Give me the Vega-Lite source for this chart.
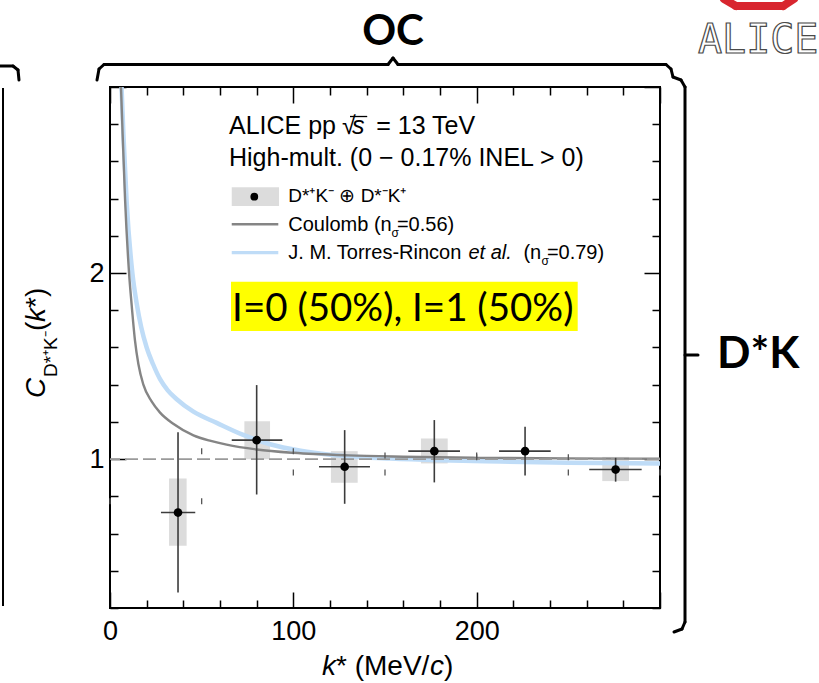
{
"$schema": "https://vega.github.io/schema/vega-lite/v6.json",
"width": 550, "height": 521,
"autosize": {"type": "none"},
"padding": {"left": 110, "top": 87, "right": 159, "bottom": 75},
"background": "white",
"config": {"font": "Liberation Sans", "view": {"stroke": "black", "strokeWidth": 2}},
"datasets": {
 "pts": [
  {"k":37.1,"C":0.713,"kLo":27.8,"kHi":46.5,"CLo":0.283,"CHi":1.145,"bkLo":32.2,"bkHi":41.8,"bLo":0.534,"bHi":0.896},
  {"k":80.0,"C":1.102,"kLo":66.4,"kHi":94.0,"CLo":0.810,"CHi":1.398,"bkLo":73.3,"bkHi":87.3,"bLo":1.0,"bHi":1.204},
  {"k":128.0,"C":0.959,"kLo":114.0,"kHi":141.8,"CLo":0.760,"CHi":1.156,"bkLo":120.5,"bkHi":135.1,"bLo":0.873,"bHi":1.043},
  {"k":176.9,"C":1.043,"kLo":162.7,"kHi":190.9,"CLo":0.875,"CHi":1.21,"bkLo":169.6,"bkHi":184.2,"bLo":0.977,"bHi":1.111},
  {"k":226.4,"C":1.043,"kLo":212.2,"kHi":240.4,"CLo":0.912,"CHi":1.174,"bkLo":null,"bkHi":null,"bLo":null,"bHi":null},
  {"k":275.8,"C":0.944,"kLo":261.4,"kHi":290.0,"CLo":0.879,"CHi":1.007,"bkLo":268.5,"bkHi":283.1,"bLo":0.882,"bHi":1.012}
 ],
 "coulomb": [
  {"k":6.0,"C":3.0},{"k":6.7,"C":2.8},{"k":8.2,"C":2.4},{"k":10.4,"C":2.0},{"k":11.8,"C":1.83},{"k":13.6,"C":1.64},{"k":15.5,"C":1.51},{"k":18.2,"C":1.4},{"k":22.7,"C":1.31},{"k":27.3,"C":1.25},{"k":34.5,"C":1.19},{"k":45.5,"C":1.128},{"k":55,"C":1.098},{"k":63.6,"C":1.078},{"k":80,"C":1.052},{"k":100,"C":1.034},{"k":130,"C":1.02},{"k":160,"C":1.013},{"k":200,"C":1.007},{"k":250,"C":1.004},{"k":300,"C":1.002}
 ],
 "torres": [
  {"k":6.3,"C":3.0},{"k":7.3,"C":2.75},{"k":9.1,"C":2.38},{"k":12.2,"C":2.0},{"k":14.5,"C":1.84},{"k":17,"C":1.71},{"k":20,"C":1.6},{"k":23.5,"C":1.51},{"k":27.3,"C":1.43},{"k":31.5,"C":1.37},{"k":36.4,"C":1.322},{"k":45.5,"C":1.255},{"k":58.2,"C":1.195},{"k":72.7,"C":1.13},{"k":87.3,"C":1.08},{"k":104,"C":1.045},{"k":120,"C":1.024},{"k":135,"C":1.012},{"k":153,"C":1.003},{"k":180,"C":0.994},{"k":213,"C":0.987},{"k":250,"C":0.981},{"k":300,"C":0.977}
 ],
 "hidden": [
  {"lo":0,"hi":50,"C":0.774},{"lo":50,"hi":100,"C":1.043},{"lo":100,"hi":150,"C":0.928},{"lo":150,"hi":200,"C":1.02},{"lo":200,"hi":250,"C":1.01},{"lo":250,"hi":300,"C":0.928}
 ]
},
"resolve": {"axis": {"x": "independent", "y": "independent"}},
"layer": [
 {"data": {"name": "pts"}, "transform": [{"filter": "datum.bLo != null"}],
  "mark": {"type": "rect", "color": "#dcdcdc"},
  "encoding": {
   "x": {"field": "bkLo", "type": "quantitative", "scale": {"domain": [0, 300], "nice": false, "zero": false},
     "axis": {"orient": "bottom", "values": [0,20,40,60,80,100,120,140,160,180,200,220,240,260,280,300],
       "tickSize": {"condition": {"test": "datum.value % 100 === 0", "value": -16}, "value": -8},
       "tickColor": "black", "tickWidth": 1.5, "domain": false, "grid": false, "title": null,
       "labelExpr": "datum.value === 0 ? '0' : datum.value === 100 ? '100' : datum.value === 200 ? '200' : ''",
       "labelFont": "Liberation Sans", "labelFontSize": 27, "labelColor": "black", "labelPadding": 26,
       "labelFlush": false, "labelOverlap": false, "labelBound": false}},
   "x2": {"field": "bkHi"},
   "y": {"field": "bLo", "type": "quantitative", "scale": {"domain": [0.2, 3.0], "nice": false, "zero": false},
     "axis": {"orient": "left", "values": [0.2,0.4,0.6,0.8,1,1.2,1.4,1.6,1.8,2,2.2,2.4,2.6,2.8,3],
       "tickSize": {"condition": {"test": "abs(datum.value - round(datum.value)) < 0.001", "value": -16}, "value": -8},
       "tickColor": "black", "tickWidth": 1.5, "domain": false, "grid": false, "title": null,
       "labelExpr": "datum.value === 1 ? '1' : datum.value === 2 ? '2' : ''",
       "labelFont": "Liberation Sans", "labelFontSize": 27, "labelColor": "black", "labelPadding": 22,
       "labelFlush": false, "labelOverlap": false, "labelBound": false}},
   "y2": {"field": "bHi"}
  }},
 {"data": {"name": "torres"},
  "mark": {"type": "line", "color": "#bfdcf7", "strokeWidth": 4.5, "interpolate": "monotone"},
  "encoding": {"x": {"field": "k", "type": "quantitative", "axis": null}, "y": {"field": "C", "type": "quantitative", "axis": null}}},
 {"data": {"name": "coulomb"},
  "mark": {"type": "line", "color": "#858585", "strokeWidth": 2.4, "interpolate": "monotone"},
  "encoding": {
   "x": {"field": "k", "type": "quantitative",
     "axis": {"orient": "top", "values": [0,20,40,60,80,100,120,140,160,180,200,220,240,260,280,300],
       "tickSize": {"condition": {"test": "datum.value % 100 === 0", "value": -16}, "value": -8},
       "tickColor": "black", "tickWidth": 1.5, "domain": false, "grid": false, "title": null, "labels": false}},
   "y": {"field": "C", "type": "quantitative",
     "axis": {"orient": "right", "values": [0.2,0.4,0.6,0.8,1,1.2,1.4,1.6,1.8,2,2.2,2.4,2.6,2.8,3],
       "tickSize": {"condition": {"test": "abs(datum.value - round(datum.value)) < 0.001", "value": -16}, "value": -8},
       "tickColor": "black", "tickWidth": 1.5, "domain": false, "grid": false, "title": null, "labels": false}}
  }},
 {"data": {"values": [{}]},
  "mark": {"type": "rule", "color": "#9a9a9a", "strokeWidth": 1.6, "strokeDash": [13, 5]},
  "encoding": {"y": {"datum": 1, "type": "quantitative", "axis": null}}},
 {"data": {"name": "hidden"},
  "mark": {"type": "tick", "orient": "vertical", "size": 6, "thickness": 1.3, "color": "#555555", "opacity": 1},
  "encoding": {"x": {"field": "lo", "type": "quantitative", "axis": null}, "y": {"field": "C", "type": "quantitative", "axis": null}}},
 {"data": {"name": "hidden"},
  "mark": {"type": "tick", "orient": "vertical", "size": 6, "thickness": 1.3, "color": "#555555", "opacity": 1},
  "encoding": {"x": {"field": "hi", "type": "quantitative", "axis": null}, "y": {"field": "C", "type": "quantitative", "axis": null}}},
 {"data": {"name": "pts"},
  "mark": {"type": "rule", "color": "#3c3c3c", "strokeWidth": 1.6},
  "encoding": {"x": {"field": "kLo", "type": "quantitative", "axis": null}, "x2": {"field": "kHi"}, "y": {"field": "C", "type": "quantitative", "axis": null}}},
 {"data": {"name": "pts"},
  "mark": {"type": "rule", "color": "#3c3c3c", "strokeWidth": 1.6},
  "encoding": {"x": {"field": "k", "type": "quantitative", "axis": null}, "y": {"field": "CLo", "type": "quantitative", "axis": null}, "y2": {"field": "CHi"}}},
 {"data": {"name": "pts"},
  "mark": {"type": "point", "filled": true, "color": "black", "size": 75, "opacity": 1},
  "encoding": {"x": {"field": "k", "type": "quantitative", "axis": null}, "y": {"field": "C", "type": "quantitative", "axis": null}}},

 {"data": {"values": [{}]}, "mark": {"type": "text", "text": "ALICE pp", "align": "left", "baseline": "alphabetic", "fontSize": 25, "color": "black"},
  "encoding": {"x": {"datum": 64.91, "type": "quantitative", "axis": null}, "y": {"datum": 2.7458, "type": "quantitative", "axis": null}}},
 {"data": {"values": [{}]}, "mark": {"type": "text", "text": "√", "align": "left", "baseline": "alphabetic", "fontSize": 25, "color": "black"},
  "encoding": {"x": {"datum": 126.55, "type": "quantitative", "axis": null}, "y": {"datum": 2.7458, "type": "quantitative", "axis": null}}},
 {"data": {"values": [{}]}, "mark": {"type": "text", "text": "s", "align": "left", "baseline": "alphabetic", "fontSize": 25, "fontStyle": "italic", "color": "black"},
  "encoding": {"x": {"datum": 132.0, "type": "quantitative", "axis": null}, "y": {"datum": 2.7458, "type": "quantitative", "axis": null}}},
 {"data": {"values": [{}]}, "mark": {"type": "text", "text": "= 13 TeV", "align": "left", "baseline": "alphabetic", "fontSize": 25, "color": "black"},
  "encoding": {"x": {"datum": 145.2, "type": "quantitative", "axis": null}, "y": {"datum": 2.7458, "type": "quantitative", "axis": null}}},
 {"data": {"values": [{}]}, "mark": {"type": "rule", "color": "black", "strokeWidth": 1.3},
  "encoding": {"x": {"datum": 130.9, "type": "quantitative", "axis": null}, "x2": {"datum": 140.3}, "y": {"datum": 2.8414, "type": "quantitative", "axis": null}}},
 {"data": {"values": [{}]}, "mark": {"type": "text", "text": "High-mult. (0 − 0.17% INEL > 0)", "align": "left", "baseline": "alphabetic", "fontSize": 25, "color": "black"},
  "encoding": {"x": {"datum": 64.91, "type": "quantitative", "axis": null}, "y": {"datum": 2.5754, "type": "quantitative", "axis": null}}},

 {"data": {"values": [{}]}, "mark": {"type": "rect", "color": "#dcdcdc"},
  "encoding": {"x": {"datum": 66.4, "type": "quantitative", "axis": null}, "x2": {"datum": 92.2}, "y": {"datum": 2.461, "type": "quantitative", "axis": null}, "y2": {"datum": 2.3605}}},
 {"data": {"values": [{}]}, "mark": {"type": "point", "filled": true, "color": "black", "size": 60, "opacity": 1},
  "encoding": {"x": {"datum": 78.71, "type": "quantitative", "axis": null}, "y": {"datum": 2.4104, "type": "quantitative", "axis": null}}},
 {"data": {"values": [{}]}, "mark": {"type": "text", "text": "D*⁺K⁻ ⊕ D*⁻K⁺", "align": "left", "baseline": "alphabetic", "fontSize": 19, "color": "black"},
  "encoding": {"x": {"datum": 97.25, "type": "quantitative", "axis": null}, "y": {"datum": 2.3836, "type": "quantitative", "axis": null}}},
 {"data": {"values": [{}]}, "mark": {"type": "rule", "color": "#858585", "strokeWidth": 2.6},
  "encoding": {"x": {"datum": 66.4, "type": "quantitative", "axis": null}, "x2": {"datum": 91.8}, "y": {"datum": 2.2621, "type": "quantitative", "axis": null}}},
 {"data": {"values": [{}]}, "mark": {"type": "text", "text": "Coulomb (n", "align": "left", "baseline": "alphabetic", "fontSize": 20, "color": "black"},
  "encoding": {"x": {"datum": 97.25, "type": "quantitative", "axis": null}, "y": {"datum": 2.2277, "type": "quantitative", "axis": null}}},
 {"data": {"values": [{}]}, "mark": {"type": "text", "text": "σ", "align": "left", "baseline": "alphabetic", "fontSize": 12, "color": "black"},
  "encoding": {"x": {"datum": 153.5, "type": "quantitative", "axis": null}, "y": {"datum": 2.1965, "type": "quantitative", "axis": null}}},
 {"data": {"values": [{}]}, "mark": {"type": "text", "text": "=0.56)", "align": "left", "baseline": "alphabetic", "fontSize": 20, "color": "black"},
  "encoding": {"x": {"datum": 156.5, "type": "quantitative", "axis": null}, "y": {"datum": 2.2277, "type": "quantitative", "axis": null}}},
 {"data": {"values": [{}]}, "mark": {"type": "rule", "color": "#bfdcf7", "strokeWidth": 3.2},
  "encoding": {"x": {"datum": 66.4, "type": "quantitative", "axis": null}, "x2": {"datum": 91.8}, "y": {"datum": 2.1095, "type": "quantitative", "axis": null}}},
 {"data": {"values": [{}]}, "mark": {"type": "text", "text": "J. M. Torres-Rincon", "align": "left", "baseline": "alphabetic", "fontSize": 20, "color": "black"},
  "encoding": {"x": {"datum": 97.25, "type": "quantitative", "axis": null}, "y": {"datum": 2.074, "type": "quantitative", "axis": null}}},
 {"data": {"values": [{}]}, "mark": {"type": "text", "text": "et al.", "align": "left", "baseline": "alphabetic", "fontSize": 20, "fontStyle": "italic", "color": "black"},
  "encoding": {"x": {"datum": 195.5, "type": "quantitative", "axis": null}, "y": {"datum": 2.074, "type": "quantitative", "axis": null}}},
 {"data": {"values": [{}]}, "mark": {"type": "text", "text": "(n", "align": "left", "baseline": "alphabetic", "fontSize": 20, "color": "black"},
  "encoding": {"x": {"datum": 225.5, "type": "quantitative", "axis": null}, "y": {"datum": 2.074, "type": "quantitative", "axis": null}}},
 {"data": {"values": [{}]}, "mark": {"type": "text", "text": "σ", "align": "left", "baseline": "alphabetic", "fontSize": 12, "color": "black"},
  "encoding": {"x": {"datum": 235.4, "type": "quantitative", "axis": null}, "y": {"datum": 2.0434, "type": "quantitative", "axis": null}}},
 {"data": {"values": [{}]}, "mark": {"type": "text", "text": "=0.79)", "align": "left", "baseline": "alphabetic", "fontSize": 20, "color": "black"},
  "encoding": {"x": {"datum": 238.3, "type": "quantitative", "axis": null}, "y": {"datum": 2.074, "type": "quantitative", "axis": null}}},

 {"data": {"values": [{}]}, "mark": {"type": "rect", "color": "#ffff00"},
  "encoding": {"x": {"datum": 66.0, "type": "quantitative", "axis": null}, "x2": {"datum": 255.11}, "y": {"datum": 1.9536, "type": "quantitative", "axis": null}, "y2": {"datum": 1.6886}}},
 {"data": {"values": [{}]}, "mark": {"type": "text", "text": "I=0 (50%), I=1 (50%)", "align": "left", "baseline": "alphabetic", "font": "Lato", "fontSize": 38.5, "color": "black"},
  "encoding": {"x": {"datum": 66.6, "type": "quantitative", "axis": null}, "y": {"datum": 1.7424, "type": "quantitative", "axis": null}}},

 {"data": {"values": [{}]}, "mark": {"type": "text", "text": "C", "align": "left", "baseline": "alphabetic", "fontSize": 28, "fontStyle": "italic", "angle": 270, "color": "black"},
  "encoding": {"x": {"datum": -35.45, "type": "quantitative", "axis": null}, "y": {"datum": 1.3286, "type": "quantitative", "axis": null}}},
 {"data": {"values": [{}]}, "mark": {"type": "text", "text": "D*⁺K⁻", "align": "left", "baseline": "alphabetic", "fontSize": 19, "angle": 270, "color": "black"},
  "encoding": {"x": {"datum": -28.91, "type": "quantitative", "axis": null}, "y": {"datum": 1.4415, "type": "quantitative", "axis": null}}},
 {"data": {"values": [{}]}, "mark": {"type": "text", "text": "(", "align": "left", "baseline": "alphabetic", "fontSize": 28, "angle": 270, "color": "black"},
  "encoding": {"x": {"datum": -35.45, "type": "quantitative", "axis": null}, "y": {"datum": 1.6887, "type": "quantitative", "axis": null}}},
 {"data": {"values": [{}]}, "mark": {"type": "text", "text": "k", "align": "left", "baseline": "alphabetic", "fontSize": 28, "fontStyle": "italic", "angle": 270, "color": "black"},
  "encoding": {"x": {"datum": -35.45, "type": "quantitative", "axis": null}, "y": {"datum": 1.7371, "type": "quantitative", "axis": null}}},
 {"data": {"values": [{}]}, "mark": {"type": "text", "text": "*)", "align": "left", "baseline": "alphabetic", "fontSize": 28, "angle": 270, "color": "black"},
  "encoding": {"x": {"datum": -35.45, "type": "quantitative", "axis": null}, "y": {"datum": 1.8123, "type": "quantitative", "axis": null}}},

 {"data": {"values": [{}]}, "mark": {"type": "text", "text": "k", "align": "left", "baseline": "alphabetic", "fontSize": 28, "fontStyle": "italic", "color": "black"},
  "encoding": {"x": {"datum": 115.64, "type": "quantitative", "axis": null}, "y": {"datum": -0.1601, "type": "quantitative", "axis": null}}},
 {"data": {"values": [{}]}, "mark": {"type": "text", "text": "* (MeV/", "align": "left", "baseline": "alphabetic", "fontSize": 28, "color": "black"},
  "encoding": {"x": {"datum": 123.27, "type": "quantitative", "axis": null}, "y": {"datum": -0.1601, "type": "quantitative", "axis": null}}},
 {"data": {"values": [{}]}, "mark": {"type": "text", "text": "c", "align": "left", "baseline": "alphabetic", "fontSize": 28, "fontStyle": "italic", "color": "black"},
  "encoding": {"x": {"datum": 174.55, "type": "quantitative", "axis": null}, "y": {"datum": -0.1601, "type": "quantitative", "axis": null}}},
 {"data": {"values": [{}]}, "mark": {"type": "text", "text": ")", "align": "left", "baseline": "alphabetic", "fontSize": 28, "color": "black"},
  "encoding": {"x": {"datum": 182.18, "type": "quantitative", "axis": null}, "y": {"datum": -0.1601, "type": "quantitative", "axis": null}}},

 {"data": {"values": [{}]}, "mark": {"type": "text", "text": "OC", "align": "center", "baseline": "alphabetic", "font": "Lato", "fontWeight": "bold", "fontSize": 42, "color": "black"},
  "encoding": {"x": {"datum": 154.36, "type": "quantitative", "axis": null}, "y": {"datum": 3.2257, "type": "quantitative", "axis": null}}},
 {"data": {"values": [{}]}, "mark": {"type": "text", "text": "D*K", "align": "left", "baseline": "alphabetic", "font": "Lato", "fontWeight": "bold", "fontSize": 44, "color": "black"},
  "encoding": {"x": {"datum": 331.09, "type": "quantitative", "axis": null}, "y": {"datum": 1.4898, "type": "quantitative", "axis": null}}},
 {"data": {"values": [{}]}, "mark": {"type": "text", "text": "ALICE", "align": "left", "baseline": "alphabetic", "font": "DejaVu Sans Mono", "fontSize": 40, "fill": "white", "stroke": "#4a4a4a", "strokeWidth": 1.2},
  "encoding": {"x": {"datum": 320.73, "type": "quantitative", "axis": null}, "y": {"datum": 3.1828, "type": "quantitative", "axis": null}}},

 {"data": {"values": [{}]}, "mark": {"type": "rule", "color": "#d8262f", "strokeWidth": 8, "strokeCap": "round"},
  "encoding": {"x": {"datum": 334.91, "type": "quantitative", "axis": null}, "x2": {"datum": 341.45}, "y": {"datum": 3.473, "type": "quantitative", "axis": null}, "y2": {"datum": 3.4353}}},
 {"data": {"values": [{}]}, "mark": {"type": "rule", "color": "#d8262f", "strokeWidth": 8, "strokeCap": "round"},
  "encoding": {"x": {"datum": 341.45, "type": "quantitative", "axis": null}, "x2": {"datum": 367.09}, "y": {"datum": 3.4353, "type": "quantitative", "axis": null}, "y2": {"datum": 3.4353}}},
 {"data": {"values": [{}]}, "mark": {"type": "rule", "color": "#d8262f", "strokeWidth": 8, "strokeCap": "round"},
  "encoding": {"x": {"datum": 367.09, "type": "quantitative", "axis": null}, "x2": {"datum": 373.09}, "y": {"datum": 3.4353, "type": "quantitative", "axis": null}, "y2": {"datum": 3.473}}},

 {"data": {"values": [{}]}, "mark": {"type": "rule", "color": "black", "strokeWidth": 3, "strokeCap": "round"},
  "encoding": {"x": {"datum": -7.09, "type": "quantitative", "axis": null}, "x2": {"datum": -5.99}, "y": {"datum": 3.0376, "type": "quantitative", "axis": null}, "y2": {"datum": 3.0967}}},
 {"data": {"values": [{}]}, "mark": {"type": "rule", "color": "black", "strokeWidth": 3, "strokeCap": "round"},
  "encoding": {"x": {"datum": -5.99, "type": "quantitative", "axis": null}, "x2": {"datum": -3.27}, "y": {"datum": 3.0967, "type": "quantitative", "axis": null}, "y2": {"datum": 3.1209}}},
 {"data": {"values": [{}]}, "mark": {"type": "rule", "color": "black", "strokeWidth": 3, "strokeCap": "round"},
  "encoding": {"x": {"datum": -3.27, "type": "quantitative", "axis": null}, "x2": {"datum": 151.64}, "y": {"datum": 3.1209, "type": "quantitative", "axis": null}, "y2": {"datum": 3.1209}}},
 {"data": {"values": [{}]}, "mark": {"type": "rule", "color": "black", "strokeWidth": 3, "strokeCap": "round"},
  "encoding": {"x": {"datum": 151.64, "type": "quantitative", "axis": null}, "x2": {"datum": 154.36}, "y": {"datum": 3.1209, "type": "quantitative", "axis": null}, "y2": {"datum": 3.1559}}},
 {"data": {"values": [{}]}, "mark": {"type": "rule", "color": "black", "strokeWidth": 3, "strokeCap": "round"},
  "encoding": {"x": {"datum": 154.36, "type": "quantitative", "axis": null}, "x2": {"datum": 157.09}, "y": {"datum": 3.1559, "type": "quantitative", "axis": null}, "y2": {"datum": 3.1209}}},
 {"data": {"values": [{}]}, "mark": {"type": "rule", "color": "black", "strokeWidth": 3, "strokeCap": "round"},
  "encoding": {"x": {"datum": 157.09, "type": "quantitative", "axis": null}, "x2": {"datum": 303.27}, "y": {"datum": 3.1209, "type": "quantitative", "axis": null}, "y2": {"datum": 3.1209}}},
 {"data": {"values": [{}]}, "mark": {"type": "rule", "color": "black", "strokeWidth": 3, "strokeCap": "round"},
  "encoding": {"x": {"datum": 303.27, "type": "quantitative", "axis": null}, "x2": {"datum": 306.0}, "y": {"datum": 3.1209, "type": "quantitative", "axis": null}, "y2": {"datum": 3.0967}}},
 {"data": {"values": [{}]}, "mark": {"type": "rule", "color": "black", "strokeWidth": 3, "strokeCap": "round"},
  "encoding": {"x": {"datum": 306.0, "type": "quantitative", "axis": null}, "x2": {"datum": 307.09}, "y": {"datum": 3.0967, "type": "quantitative", "axis": null}, "y2": {"datum": 3.0537}}},
 {"data": {"values": [{}]}, "mark": {"type": "rule", "color": "black", "strokeWidth": 3, "strokeCap": "round"},
  "encoding": {"x": {"datum": 307.09, "type": "quantitative", "axis": null}, "x2": {"datum": 311.45}, "y": {"datum": 3.0537, "type": "quantitative", "axis": null}, "y2": {"datum": 3.0376}}},
 {"data": {"values": [{}]}, "mark": {"type": "rule", "color": "black", "strokeWidth": 3, "strokeCap": "round"},
  "encoding": {"x": {"datum": 311.45, "type": "quantitative", "axis": null}, "x2": {"datum": 313.64}, "y": {"datum": 3.0376, "type": "quantitative", "axis": null}, "y2": {"datum": 3.0}}},
 {"data": {"values": [{}]}, "mark": {"type": "rule", "color": "black", "strokeWidth": 3, "strokeCap": "round"},
  "encoding": {"x": {"datum": 313.64, "type": "quantitative", "axis": null}, "x2": {"datum": 313.64}, "y": {"datum": 3.0, "type": "quantitative", "axis": null}, "y2": {"datum": 0.1247}}},
 {"data": {"values": [{}]}, "mark": {"type": "rule", "color": "black", "strokeWidth": 3, "strokeCap": "round"},
  "encoding": {"x": {"datum": 313.64, "type": "quantitative", "axis": null}, "x2": {"datum": 320.73}, "y": {"datum": 1.5597, "type": "quantitative", "axis": null}, "y2": {"datum": 1.5597}}},
 {"data": {"values": [{}]}, "mark": {"type": "rule", "color": "black", "strokeWidth": 3, "strokeCap": "round"},
  "encoding": {"x": {"datum": 313.64, "type": "quantitative", "axis": null}, "x2": {"datum": 312.0}, "y": {"datum": 0.1247, "type": "quantitative", "axis": null}, "y2": {"datum": 0.0871}}},
 {"data": {"values": [{}]}, "mark": {"type": "rule", "color": "black", "strokeWidth": 3, "strokeCap": "round"},
  "encoding": {"x": {"datum": 312.0, "type": "quantitative", "axis": null}, "x2": {"datum": 307.64}, "y": {"datum": 0.0871, "type": "quantitative", "axis": null}, "y2": {"datum": 0.0709}}},

 {"data": {"values": [{}]}, "mark": {"type": "rule", "color": "black", "strokeWidth": 3, "strokeCap": "round"},
  "encoding": {"x": {"datum": -60.5, "type": "quantitative", "axis": null}, "x2": {"datum": -52.91}, "y": {"datum": 3.1128, "type": "quantitative", "axis": null}, "y2": {"datum": 3.1128}}},
 {"data": {"values": [{}]}, "mark": {"type": "rule", "color": "black", "strokeWidth": 3, "strokeCap": "round"},
  "encoding": {"x": {"datum": -52.91, "type": "quantitative", "axis": null}, "x2": {"datum": -50.18}, "y": {"datum": 3.1128, "type": "quantitative", "axis": null}, "y2": {"datum": 3.0913}}},
 {"data": {"values": [{}]}, "mark": {"type": "rule", "color": "black", "strokeWidth": 3, "strokeCap": "round"},
  "encoding": {"x": {"datum": -50.18, "type": "quantitative", "axis": null}, "x2": {"datum": -49.64}, "y": {"datum": 3.0913, "type": "quantitative", "axis": null}, "y2": {"datum": 3.0376}}},
 {"data": {"values": [{}]}, "mark": {"type": "rule", "color": "black", "strokeWidth": 2},
  "encoding": {"x": {"datum": -58.36, "type": "quantitative", "axis": null}, "x2": {"datum": -58.36}, "y": {"datum": 2.9951, "type": "quantitative", "axis": null}, "y2": {"datum": 0.2107}}}
]
}
